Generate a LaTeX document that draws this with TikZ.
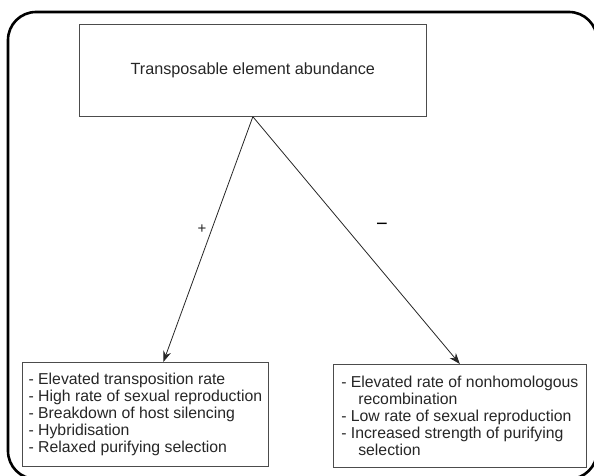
\documentclass[tikz,border=0pt]{standalone}
\usepackage{fontspec}
\setmainfont{Liberation Sans}
\usetikzlibrary{arrows.meta, positioning}
\tikzset{
  boxtext/.style={font=\fontsize{16.2}{17}\selectfont\color{black!85}}
}
\tikzset{
  listbox/.style={font=\fontsize{15.8}{17}\selectfont\color{black!85}, draw=black!70, line width=0.7pt, align=left, inner xsep=5pt, anchor=north west}
}
\tikzset{
  signtext/.style={font=\fontsize{15}{15}\selectfont\color{black!85}}
}
\begin{document}
\begin{tikzpicture}[x=1pt, y=-1pt, >={Stealth[length=11pt,width=8pt]}]
  \useasboundingbox (0,0) rectangle (594,476);
  \clip (0,0) rectangle (594,476);
  % rounded frame, cut off at the right and bottom edge
  \draw[line width=2.6pt, rounded corners=28pt] (8,12) rectangle (597,479);
  % the box on top
  \node[boxtext, draw=black!70, line width=0.7pt, minimum width=347pt, minimum height=92pt, anchor=north west] (abund) at (79,24) {Transposable element abundance};
  % factors that raise it
  \node[listbox, minimum height=104pt, minimum width=246pt] (raise) at (22,362) {%
    - Elevated transposition rate\\
    - High rate of sexual reproduction\\
    - Breakdown of host silencing\\
    - Hybridisation\\
    - Relaxed purifying selection};
  % factors that lower it
  \node[listbox, minimum height=103pt, minimum width=253pt] (lower) at (333,364) {%
    - Elevated rate of nonhomologous\\
    \hspace*{17pt}recombination\\
    - Low rate of sexual reproduction\\
    - Increased strength of purifying\\
    \hspace*{17pt}selection};
  \draw[->, line width=0.8pt, black!85] (abund.south) -- ([xshift=18pt]raise.north);
  \draw[->, line width=0.8pt, black!85] (abund.south) -- (lower.north);
  \node[signtext] (plus) at (202,229) {+};
  \node[signtext, font=\fontsize{20}{20}\selectfont] (minus) at (382,227) {−};
\end{tikzpicture}
\end{document}
